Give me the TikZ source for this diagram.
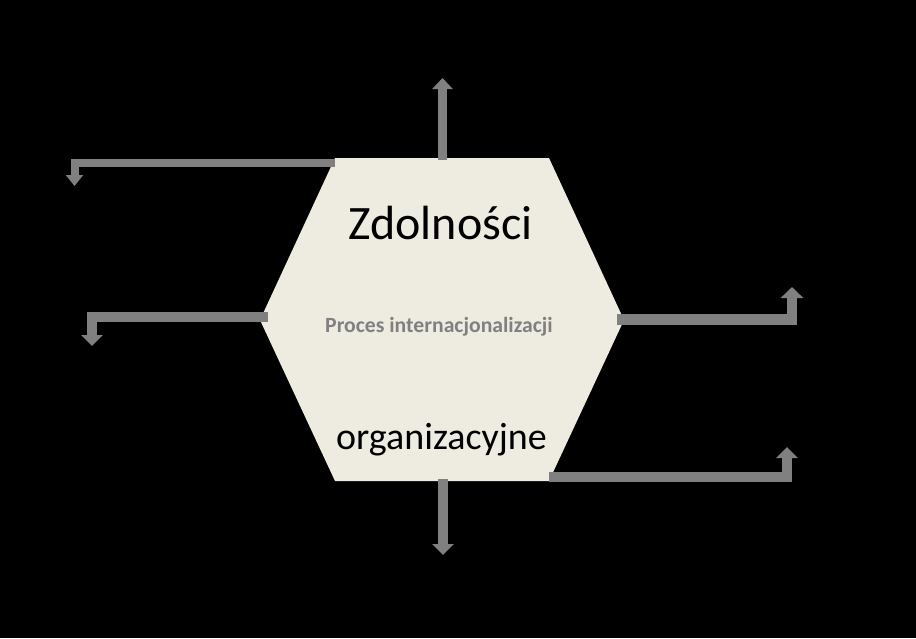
\documentclass[tikz,border=0pt]{standalone}
\usepackage{fontspec}
\setmainfont{Carlito}
\usetikzlibrary{arrows.meta}
\usetikzlibrary{positioning}

\definecolor{hexfill}{HTML}{EEECE1}
\definecolor{arrowgray}{HTML}{808080}

\tikzset{
  flow/.style={draw=arrowgray, line width=#1, line cap=butt, line join=miter,
    -{Triangle[width=2.1*#1, length=11pt]}},
  flow/.default=10pt,
  label/.style={anchor=base, inner sep=0pt}
}

\begin{document}
\begin{tikzpicture}[x=1pt, y=-1pt]

\fill[black] (0,0) rectangle (916,638);
\useasboundingbox (0,0) rectangle (916,638);

\coordinate (tl) at (335,158);
\coordinate (tr) at (549,158);
\coordinate (r) at (624,320);
\coordinate (br) at (549,481);
\coordinate (bl) at (335,481);
\coordinate (l) at (260,320);

\fill[hexfill] (tl) -- (tr) -- (r) -- (br) -- (bl) -- (l) -- cycle;

\node[label, font=\fontsize{48}{50}\selectfont, text=black] (zdol) at (440.5,239) {Zdolności};
\node[label, font=\fontsize{21.7}{24}\selectfont\bfseries, text=arrowgray] (proces) at (439,332) {Proces internacjonalizacji};
\node[label, font=\fontsize{38}{40}\selectfont, text=black] (org) at (441.5,449) {organizacyjne};

% ends of the arrows
\coordinate (up) at (442.5,78);
\coordinate (down) at (443,555);
\coordinate (nw) at (74.5,186);
\coordinate (w) at (92,346);
\coordinate (e) at (792,287);
\coordinate (se) at (787,447);

\draw[flow=9.5pt] (442.5,160) -- (up);
\draw[flow=10pt] (443,479) -- (down);
\draw[flow=8pt] (tl |- 0,163) -- (nw |- 0,163) -- (nw);
\draw[flow=10pt] (268,316.5) -- (w |- 0,316.5) -- (w);
\draw[flow=10.5pt] (617,319.5) -- (e |- 0,319.5) -- (e);
\draw[flow=10pt] (br |- 0,476.5) -- (se |- 0,476.5) -- (se);

\end{tikzpicture}
\end{document}
